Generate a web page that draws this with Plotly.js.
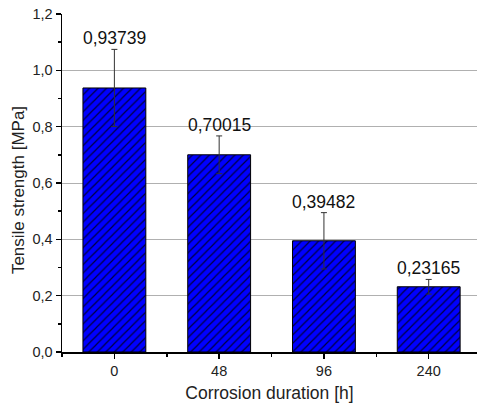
<!DOCTYPE html>
<html>
<head>
<meta charset="utf-8">
<script src="https://cdn.plot.ly/plotly-3.0.1.min.js"></script>
<style>html,body{margin:0;padding:0;background:#fff;}#chart{width:477px;height:410px;}</style>
</head>
<body>
<div id="chart"></div>
<script>
var categories = ["0", "48", "96", "240"];
var strength = [0.93739, 0.70015, 0.39482, 0.23165];
var errors = [0.137, 0.067, 0.100, 0.026];

var xs = categories.map(function (c, i) { return i; });
var fnt = "Liberation Sans, Arial, sans-serif";

var trace = {
  type: "bar",
  x: xs,
  y: strength,
  width: 0.6,
  marker: {
    color: "#0000ff",
    line: { color: "#000000", width: 1 },
    pattern: { shape: "/", fgcolor: "#000040", bgcolor: "#0000ff", size: 6, solidity: 0.2 }
  },
  error_y: { type: "data", array: errors, visible: true, color: "#333333", thickness: 1, width: 3 },
  hoverinfo: "none"
};

var annotations = strength.map(function (v, i) {
  return {
    x: xs[i], y: v + errors[i], xref: "x", yref: "y",
    text: String(v).replace(".", ","),
    showarrow: false, yanchor: "bottom", yshift: -1,
    font: { family: fnt, size: 17.5, color: "#111" }
  };
});
annotations.push({
  xref: "paper", yref: "paper", x: -0.106, y: 0.479,
  xanchor: "center", yanchor: "middle", textangle: -90, showarrow: false,
  text: "Tensile strength [MPa]",
  font: { family: fnt, size: 17, color: "#222" }
});

var layout = {
  width: 477, height: 410,
  margin: { l: 62, r: 0, t: 14, b: 58 },
  paper_bgcolor: "#fff", plot_bgcolor: "#fff",
  separators: ",.",
  showlegend: false,
  font: { family: fnt, size: 14, color: "#222" },
  xaxis: {
    range: [-0.5, 3.461],
    tickmode: "array", tickvals: xs, ticktext: categories,
    showgrid: false, zeroline: false,
    showline: true, linecolor: "#000", linewidth: 1.5,
    ticks: "outside", ticklen: 5, tickwidth: 1.5, tickcolor: "#000",
    minor: { tickmode: "linear", tick0: 0.5, dtick: 1, ticks: "outside", ticklen: 3, tickwidth: 1.5, tickcolor: "#000", showgrid: false },
    tickfont: { family: fnt, size: 14.5, color: "#222" },
    title: { text: "Corrosion duration [h]", font: { family: fnt, size: 17.5, color: "#222" }, standoff: 9 }
  },
  yaxis: {
    range: [0, 1.2], dtick: 0.2, tick0: 0, tickformat: ".1f",
    showgrid: true, gridcolor: "#b0b0b0", gridwidth: 1,
    zeroline: false,
    showline: true, linecolor: "#000", linewidth: 1.5,
    ticks: "outside", ticklen: 5, tickwidth: 1.5, tickcolor: "#000",
    minor: { dtick: 0.1, tick0: 0, ticks: "outside", ticklen: 3, tickwidth: 1.5, tickcolor: "#000", showgrid: false },
    tickfont: { family: fnt, size: 14.5, color: "#222" }
  },
  annotations: annotations
};

Plotly.newPlot("chart", [trace], layout, { staticPlot: true, displayModeBar: false });
</script>
</body>
</html>
